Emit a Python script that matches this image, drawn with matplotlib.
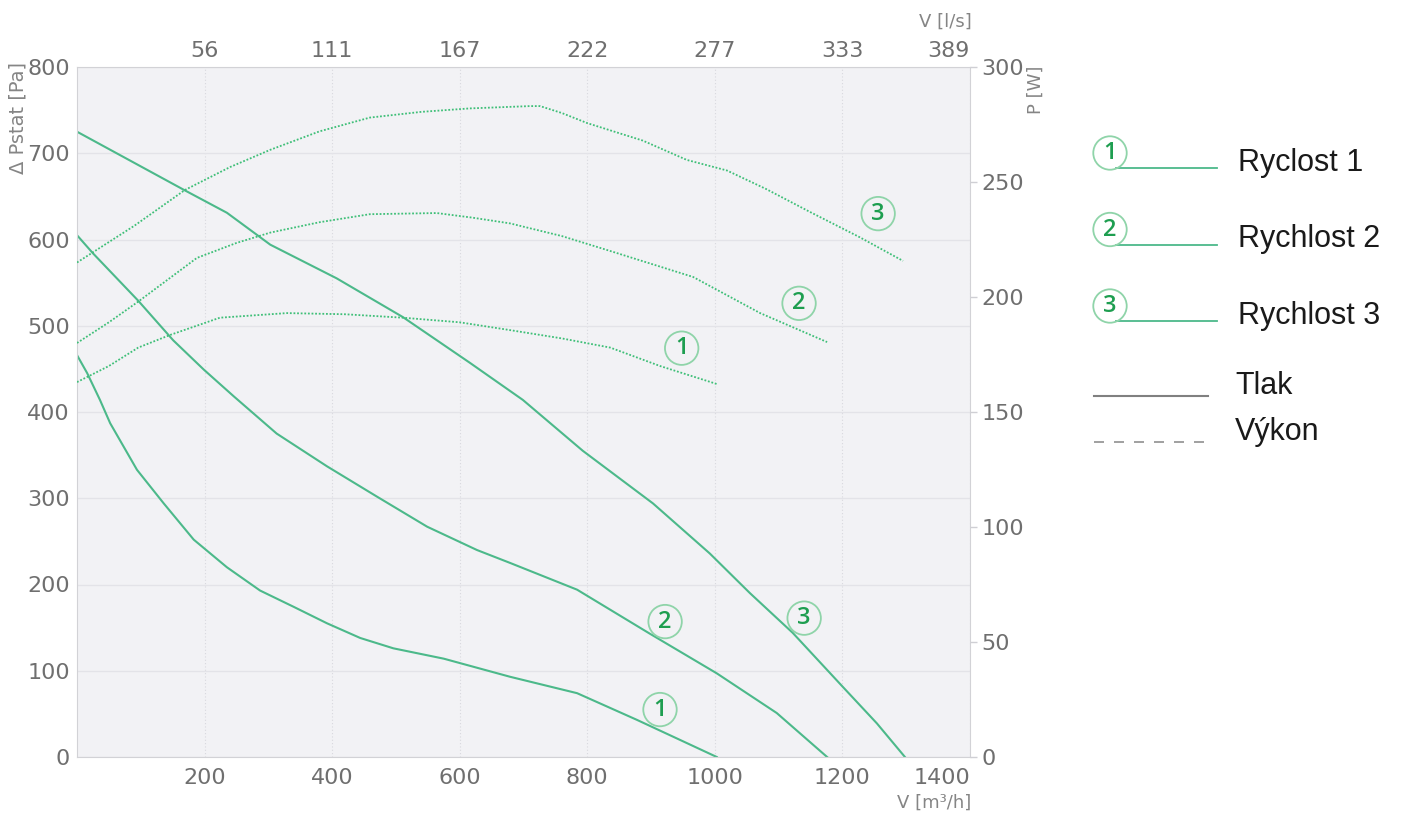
import numpy as np
import matplotlib
matplotlib.use("Agg")
import matplotlib.pyplot as plt

# flow [m3/h] and static pressure [Pa] per speed
v_p1 = [0, 16, 36, 52, 94, 136, 183, 235, 287, 340, 392, 444, 496, 575, 679, 784, 878, 1003]
p_p1 = [466, 445, 414, 387, 333, 294, 252, 220, 193, 174, 155, 138, 126, 114, 93, 74, 43, 0]

v_p2 = [0, 25, 96, 151, 199, 246, 313, 392, 470, 549, 627, 679, 784, 898, 1003, 1097, 1176]
p_p2 = [605, 584, 529, 483, 449, 418, 375, 337, 302, 267, 240, 225, 194, 143, 97, 51, 0]

v_p3 = [0, 169, 235, 303, 407, 511, 616, 699, 793, 903, 992, 1055, 1122, 1201, 1254, 1298]
p_p3 = [725, 657, 631, 594, 555, 510, 457, 414, 355, 294, 236, 190, 144, 81, 39, 0]

# flow [m3/h] and power input [W] per speed
v_w1 = [0, 50, 96, 146, 224, 329, 420, 511, 600, 679, 760, 836, 914, 1005]
w_w1 = [163, 170, 178, 183.5, 191, 193, 192.5, 191, 189, 185.6, 182, 178, 170, 162]

v_w2 = [0, 50, 96, 188, 250, 303, 380, 459, 564, 620, 679, 760, 836, 966, 1071, 1176]
w_w2 = [180, 189, 198, 217, 223.5, 228, 232.5, 236, 236.5, 234.5, 232, 226.5, 220, 208.7, 193, 180.4]

v_w3 = [0, 90, 169, 240, 303, 380, 459, 540, 616, 710, 726, 760, 800, 887, 956, 1019, 1080, 1149, 1227, 1295]
w_w3 = [215, 231, 246.5, 256.5, 264, 272, 278, 280.5, 282, 283, 283, 280, 275.6, 268, 259.6, 255, 247, 237, 226, 215.7]

x_ticks = [200, 400, 600, 800, 1000, 1200, 1400]
top_labels = ['56', '111', '167', '222', '277', '333', '389']
p_ticks = list(range(0, 801, 100))
w_ticks = list(range(0, 301, 50))

legend_names = ['Ryclost 1', 'Rychlost 2', 'Rychlost 3']

PRESS_COLOR = '#4cb98a'
POWER_COLOR = '#3fbf78'
TICK_COLOR = '#6f6f6f'
LABEL_COLOR = '#858585'
DIGIT_COLOR = '#1e9e50'
RING_COLOR = '#8fd4a9'

fig = plt.figure(figsize=(14.2, 8.19), dpi=100)
W, H = 1420, 819

ax = fig.add_axes([77 / W, 1 - 757 / H, (970 - 77) / W, (757 - 67) / H])
ax.set_facecolor('#f2f2f5')
ax.set_xlim(0, 1400)
ax.set_ylim(0, 800)
ax.set_xticks(x_ticks)
ax.set_yticks(p_ticks)
ax.tick_params(axis='y', length=0, pad=5, labelsize=16, labelcolor=TICK_COLOR)
ax.tick_params(axis='x', length=0, pad=8, labelsize=16, labelcolor=TICK_COLOR)
ax.grid(axis='x', color='#d8d8de', linestyle=(0, (1, 2)), linewidth=0.8)
ax.grid(axis='y', color='#e3e3e8', linestyle='-', linewidth=1.0)
for s in ['left', 'right', 'top', 'bottom']:
    ax.spines[s].set_color('#d2d2d6')
ax.get_xticklabels()[-1].set_horizontalalignment('right')

for v, p in [(v_p1, p_p1), (v_p2, p_p2), (v_p3, p_p3)]:
    ax.plot(v, p, color=PRESS_COLOR, linewidth=1.5, solid_joinstyle='round')

ax2 = ax.twinx()
ax2.set_ylim(0, 300)
ax2.set_yticks(w_ticks)
ax2.tick_params(axis='y', length=5, width=1, color='#cfcfd4', pad=3,
                labelsize=16, labelcolor=TICK_COLOR)
for s in ['left', 'right', 'top', 'bottom']:
    ax2.spines[s].set_visible(False)
for v, w in [(v_w1, w_w1), (v_w2, w_w2), (v_w3, w_w3)]:
    ax2.plot(v, w, color=POWER_COLOR, linewidth=1.3, linestyle=(0, (1, 1)))

ax3 = ax.twiny()
ax3.set_xlim(0, 1400)
ax3.set_xticks(x_ticks)
ax3.set_xticklabels(top_labels)
ax3.tick_params(axis='x', length=0, pad=4, labelsize=16, labelcolor=TICK_COLOR)
for s in ['left', 'right', 'top', 'bottom']:
    ax3.spines[s].set_visible(False)
ax3.get_xticklabels()[-1].set_horizontalalignment('right')


def ring(axis, x, y, txt):
    axis.text(x, y, txt, ha='center', va='center', fontsize=17, color=DIGIT_COLOR,
              family='Open Sans', fontweight='semibold', zorder=5,
              bbox=dict(boxstyle='circle,pad=0.2', fc='none', ec=RING_COLOR, lw=1.3))


# curve labels (pressure curves, then power curves given in pressure-axis units)
for x, y, t in [(914, 55, '1'), (922, 157, '2'), (1140, 161, '3'),
                (948, 474, '1'), (1132, 526, '2'), (1256, 630, '3')]:
    ring(ax, x, y, t)

# axis titles
fig.text(18 / W, 1 - 118 / H, 'Δ Pstat [Pa]', rotation=90, ha='center', va='center',
         fontsize=14, color=LABEL_COLOR)
fig.text(1036 / W, 1 - 90 / H, 'P [W]', rotation=90, ha='center', va='center',
         fontsize=13, color=LABEL_COLOR)
fig.text(972 / W, 1 - 22 / H, 'V [l/s]', ha='right', va='center',
         fontsize=13, color=LABEL_COLOR)
fig.text(971 / W, 1 - 803 / H, 'V [m³/h]', ha='right', va='center',
         fontsize=13, color=LABEL_COLOR)

# legend drawn in pixel space on an overlay
lg = fig.add_axes([0, 0, 1, 1])
lg.set_xlim(0, W)
lg.set_ylim(H, 0)
lg.axis('off')
lg.patch.set_visible(False)
for i, name in enumerate(legend_names):
    y = 168 + i * 76.5
    lg.plot([1116, 1217], [y, y], color=PRESS_COLOR, linewidth=1.3)
    ring(lg, 1110, y - 15, str(i + 1))
    lg.text(1238, y - 5, name, ha='left', va='center', fontsize=22,
            family='Liberation Sans', color='#1a1a1a')
lg.plot([1094, 1208], [396, 396], color='#808080', linewidth=1.5)
lg.text(1235, 386, 'Tlak', ha='left', va='center', fontsize=22,
        family='Liberation Sans', color='#1a1a1a')
lg.plot([1094, 1208], [442, 442], color='#909090', linewidth=1.2, dashes=(6, 6))
lg.text(1235, 432, 'Výkon', ha='left', va='center', fontsize=22,
        family='Liberation Sans', color='#1a1a1a')

fig.savefig('out.png', dpi=100, facecolor='white')
